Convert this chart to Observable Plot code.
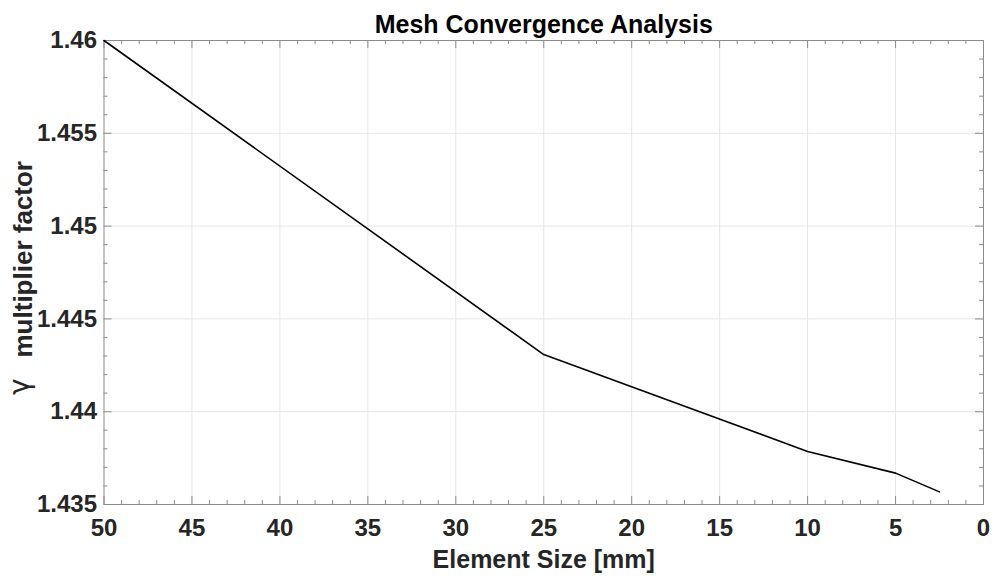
<!DOCTYPE html>
<html>
<head>
<meta charset="utf-8">
<script src="https://cdn.jsdelivr.net/npm/d3@7"></script>
<script src="https://cdn.jsdelivr.net/npm/@observablehq/plot@0.6"></script>
<style>
  html, body { margin: 0; padding: 0; background: #fff; }
</style>
</head>
<body>
<div id="chart"></div>
<script>
// Mesh convergence: gamma multiplier vs. element size
const elementSize = [50, 25, 10, 5, 2.5];
const gammaFactor = [1.46, 1.44308, 1.43786, 1.43669, 1.43568];

const xTicks = [50, 45, 40, 35, 30, 25, 20, 15, 10, 5, 0];
const yTicks = [1.435, 1.44, 1.445, 1.45, 1.455, 1.46];
const xMinor = d3.range(0, 51, 1).filter(v => v % 5 !== 0);
const yMinor = d3.range(1435, 1461, 1).filter(v => v % 5 !== 0).map(v => v / 1000);

const points = elementSize.map((s, i) => ({size: s, gamma: gammaFactor[i]}));

const W = 994, H = 578;
const mTop = 40, mBottom = 74, mLeft = 103.5, mRight = 11;
const plotH = H - mTop - mBottom;
const plotW = W - mLeft - mRight;
const frameColor = "#8a8a8a";
const textColor = "#262626";
const major = 8, minor = 4;
const sans = "'Liberation Sans', Arial, Helvetica, sans-serif";

const chart = Plot.plot({
  width: W,
  height: H,
  marginTop: mTop,
  marginBottom: mBottom,
  marginLeft: mLeft,
  marginRight: mRight,
  style: {fontFamily: sans, fontWeight: "bold", fontSize: "24px", color: textColor, background: "#fff"},
  x: {domain: [50, 0], ticks: xTicks},
  y: {domain: [1.435, 1.46], ticks: yTicks},
  marks: [
    // grid
    Plot.gridX(xTicks.slice(1, -1), {stroke: "#e6e6e6", strokeOpacity: 1, strokeWidth: 1}),
    Plot.gridY(yTicks.slice(1, -1), {stroke: "#e6e6e6", strokeOpacity: 1, strokeWidth: 1}),
    // inward tick marks on all four sides
    Plot.tickX(xTicks, {x: d => d, insetTop: plotH - major, stroke: frameColor}),
    Plot.tickX(xTicks, {x: d => d, insetBottom: plotH - major, stroke: frameColor}),
    Plot.tickX(xMinor, {x: d => d, insetTop: plotH - minor, stroke: frameColor}),
    Plot.tickX(xMinor, {x: d => d, insetBottom: plotH - minor, stroke: frameColor}),
    Plot.tickY(yTicks, {y: d => d, insetRight: plotW - major, stroke: frameColor}),
    Plot.tickY(yTicks, {y: d => d, insetLeft: plotW - major, stroke: frameColor}),
    Plot.tickY(yMinor, {y: d => d, insetRight: plotW - minor, stroke: frameColor}),
    Plot.tickY(yMinor, {y: d => d, insetLeft: plotW - minor, stroke: frameColor}),
    Plot.frame({stroke: frameColor, strokeWidth: 1}),
    // tick labels
    Plot.axisX(xTicks, {tickSize: 0, tickPadding: 14, label: null, fill: textColor, fontSize: 24}),
    Plot.axisY(yTicks, {tickSize: 0, tickPadding: 7, label: null, fill: textColor, fontSize: 24,
      tickFormat: d => String(+d.toFixed(3))}),
    // data
    Plot.line(points, {x: "size", y: "gamma", stroke: "#000", strokeWidth: 1.6}),
    // titles
    Plot.text(["Mesh Convergence Analysis"], {frameAnchor: "top", lineAnchor: "bottom", dy: -8,
      fill: "#000", fontSize: 25, fontWeight: "bold"}),
    Plot.text(["Element Size [mm]"], {frameAnchor: "bottom", lineAnchor: "bottom", dy: 63,
      fill: textColor, fontSize: 25, fontWeight: "bold"}),
    Plot.text(["multiplier factor"], {frameAnchor: "left", lineAnchor: "bottom", textAnchor: "start",
      rotate: -90, dx: -72.5, dy: 85, fill: textColor, fontSize: 26, fontWeight: "bold"}),
    Plot.text(["γ"], {frameAnchor: "left", lineAnchor: "bottom", textAnchor: "end",
      rotate: -90, dx: -75, dy: 106, fill: textColor, fontSize: 28, fontWeight: "normal",
      fontFamily: "'DejaVu Sans', sans-serif"})
  ]
});
document.getElementById("chart").appendChild(chart);
</script>
</body>
</html>
